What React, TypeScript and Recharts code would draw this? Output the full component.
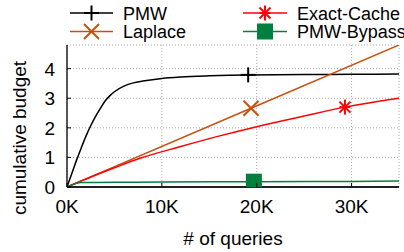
import React from 'react';
import { LineChart, Line, XAxis, YAxis, CartesianGrid } from 'recharts';

const pmwQueries = [0, 500, 1000, 1500, 2000, 2500, 3000, 3500, 4000, 4500, 5000, 6000, 7000, 8000, 10000, 12000, 15000, 19100, 25000, 30000, 35000];
const pmwBudget = [0, 0.45, 0.9, 1.32, 1.72, 2.07, 2.38, 2.65, 2.9, 3.08, 3.22, 3.41, 3.52, 3.58, 3.67, 3.72, 3.76, 3.79, 3.8, 3.81, 3.82];
const pmwMarker = 17;

const laplaceQueries = [0, 19400, 35000];
const laplaceBudget = [0, 2.66, 4.8];
const laplaceMarker = 1;

const exactQueries = [0, 2000, 5000, 7700, 12000, 16000, 20000, 25000, 29300, 35000];
const exactBudget = [0, 0.27, 0.65, 0.97, 1.37, 1.72, 2.04, 2.4, 2.7, 3.0];
const exactMarker = 8;

const bypassQueries = [0, 1500, 5000, 10000, 19700, 30000, 35000];
const bypassBudget = [0, 0.15, 0.16, 0.17, 0.18, 0.19, 0.2];
const bypassMarker = 4;

const xTicks = [0, 10000, 20000, 30000];
const yTicks = [0, 1, 2, 3, 4];

const seriesNames = ['PMW', 'Laplace', 'Exact-Cache', 'PMW-Bypass'];
const seriesColors = ['#000000', '#c8500f', '#ff0000', '#00803f'];
const seriesShapes = ['plus', 'cross', 'star', 'square'];

const FONT = '"Liberation Sans", Arial, Helvetica, sans-serif';

const toPoints = (xs: number[], ys: number[]) => xs.map((q, i) => ({ q, b: ys[i] }));

function Marker({ shape, cx, cy, color }: { shape: string; cx: number; cy: number; color: string }) {
  const s = 7.5;
  const d = 5.5;
  if (shape === 'plus') {
    return (
      <g stroke={color} strokeWidth={2}>
        <line x1={cx - s} x2={cx + s} y1={cy} y2={cy} />
        <line x1={cx} x2={cx} y1={cy - s} y2={cy + s} />
      </g>
    );
  }
  if (shape === 'cross') {
    return (
      <g stroke={color} strokeWidth={2}>
        <line x1={cx - s} x2={cx + s} y1={cy - s} y2={cy + s} />
        <line x1={cx - s} x2={cx + s} y1={cy + s} y2={cy - s} />
      </g>
    );
  }
  if (shape === 'star') {
    return (
      <g stroke={color} strokeWidth={2}>
        <line x1={cx - d} x2={cx + d} y1={cy} y2={cy} />
        <line x1={cx} x2={cx} y1={cy - s} y2={cy + s} />
        <line x1={cx - d} x2={cx + d} y1={cy - d} y2={cy + d} />
        <line x1={cx - d} x2={cx + d} y1={cy + d} y2={cy - d} />
      </g>
    );
  }
  return <rect x={cx - 8} y={cy - 8} width={16} height={16} fill={color} />;
}

const makeDot = (idx: number, shape: string, color: string) => (props: any) => {
  if (props.index !== idx) return <g key={props.key ?? `d${props.index}`} />;
  return (
    <g key={props.key ?? `d${props.index}`}>
      <Marker shape={shape} cx={props.cx} cy={props.cy} color={color} />
    </g>
  );
};

const XTick = (props: any) => {
  const { x, y, payload } = props;
  return (
    <g>
      <line x1={x} x2={x} y1={y} y2={y - 4} stroke="#000" />
      <text x={x} y={y + 26} textAnchor="middle" fontSize={19} fontFamily={FONT} fill="#000">
        {payload.value / 1000 + 'K'}
      </text>
    </g>
  );
};

const YTick = (props: any) => {
  const { x, y, payload } = props;
  return (
    <g>
      <line x1={x} x2={x + 4} y1={y} y2={y} stroke="#000" />
      <text x={x - 12} y={y + 7} textAnchor="end" fontSize={19} fontFamily={FONT} fill="#000">
        {payload.value}
      </text>
    </g>
  );
};

const TopTick = (props: any) => {
  const { x, y } = props;
  return <line x1={x} x2={x} y1={y} y2={y + 4} stroke="#000" />;
};

const RightTick = (props: any) => {
  const { x, y } = props;
  return <line x1={x} x2={x - 4} y1={y} y2={y} stroke="#000" />;
};

function LegendBox() {
  const cols = [
    { line: [70, 113], text: 123 },
    { line: [243, 287], text: 297 },
  ];
  const rows = [13, 31.5];
  const order = [0, 2, 1, 3];
  return (
    <svg width={404} height={45} style={{ position: 'absolute', left: 0, top: 0 }}>
      {order.map((si, k) => {
        const col = cols[k % 2];
        const cy = rows[Math.floor(k / 2)];
        const color = seriesColors[si];
        const mx = (col.line[0] + col.line[1]) / 2;
        return (
          <g key={si}>
            <line x1={col.line[0]} x2={col.line[1]} y1={cy} y2={cy} stroke={color} strokeWidth={1.5} />
            <Marker shape={seriesShapes[si]} cx={mx} cy={cy} color={color} />
            <text x={col.text} y={cy + 6.5} fontSize={18} fontFamily={FONT} fill="#000">
              {seriesNames[si]}
            </text>
          </g>
        );
      })}
    </svg>
  );
}

export default function App() {
  const datasets = [
    { data: toPoints(pmwQueries, pmwBudget), marker: pmwMarker, type: 'monotone' },
    { data: toPoints(laplaceQueries, laplaceBudget), marker: laplaceMarker, type: 'linear' },
    { data: toPoints(exactQueries, exactBudget), marker: exactMarker, type: 'monotone' },
    { data: toPoints(bypassQueries, bypassBudget), marker: bypassMarker, type: 'monotone' },
  ];
  return (
    <div style={{ position: 'absolute', left: 0, top: 0, width: 404, height: 252, background: '#fff' }}>
      <LineChart width={404} height={252} margin={{ top: 45, right: 5, left: 0, bottom: 0 }}>
        <CartesianGrid stroke="#aaa" strokeDasharray="1 2" />
        <XAxis
          xAxisId={0}
          dataKey="q"
          type="number"
          domain={[0, 35000]}
          ticks={xTicks}
          allowDataOverflow
          height={65}
          tickSize={0}
          tickMargin={0}
          tickLine={false}
          tick={<XTick />}
          axisLine={{ stroke: '#222', strokeWidth: 2 }}
          label={{
            content: (p: any) => {
              const vb = p.viewBox;
              return (
                <text x={vb.x + vb.width / 2} y={vb.y + 58} textAnchor="middle" fontSize={19} fontFamily={FONT} fill="#000">
                  # of queries
                </text>
              );
            },
          }}
        />
        <XAxis
          xAxisId="top"
          dataKey="q"
          type="number"
          orientation="top"
          domain={[0, 35000]}
          ticks={xTicks}
          allowDataOverflow
          height={0}
          tickSize={0}
          tickMargin={0}
          tickLine={false}
          tick={<TopTick />}
          axisLine={{ stroke: '#000', strokeWidth: 1 }}
        />
        <YAxis
          yAxisId={0}
          type="number"
          domain={[0, 4.8]}
          ticks={yTicks}
          allowDataOverflow
          width={67}
          tickSize={0}
          tickMargin={0}
          tickLine={false}
          tick={<YTick />}
          axisLine={{ stroke: '#222', strokeWidth: 1.5 }}
          label={{
            content: (p: any) => {
              const vb = p.viewBox;
              const cx = 19;
              const cy = vb.y + vb.height / 2 + 22;
              return (
                <text x={cx} y={cy} transform={`rotate(-90 ${cx} ${cy})`} textAnchor="middle" dominantBaseline="central" fontSize={19} fontFamily={FONT} fill="#000">
                  cumulative budget
                </text>
              );
            },
          }}
        />
        <YAxis
          yAxisId="right"
          type="number"
          orientation="right"
          domain={[0, 4.8]}
          ticks={yTicks}
          allowDataOverflow
          width={0}
          tickSize={0}
          tickMargin={0}
          tickLine={false}
          tick={<RightTick />}
          axisLine={{ stroke: '#000', strokeWidth: 1 }}
        />
        {datasets.map((ds, i) => (
          <Line
            key={seriesNames[i]}
            data={ds.data}
            dataKey="b"
            name={seriesNames[i]}
            type={ds.type as any}
            stroke={seriesColors[i]}
            strokeWidth={1.5}
            dot={makeDot(ds.marker, seriesShapes[i], seriesColors[i])}
            activeDot={false}
            isAnimationActive={false}
          />
        ))}
      </LineChart>
      <LegendBox />
    </div>
  );
}
